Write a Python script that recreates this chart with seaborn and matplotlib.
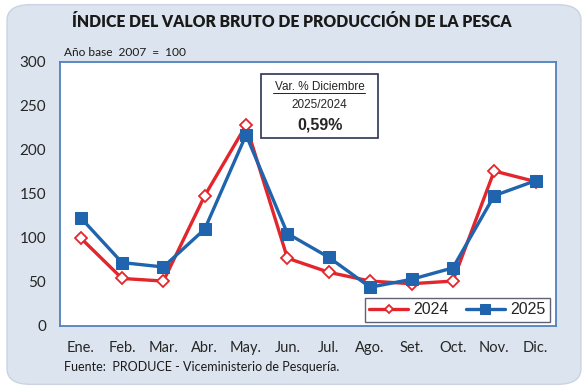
import numpy as np
import pandas as pd
import matplotlib
matplotlib.use("Agg")
import matplotlib.pyplot as plt
import seaborn as sns
from matplotlib.patches import FancyBboxPatch

months = ["Ene.", "Feb.", "Mar.", "Abr.", "May.", "Jun.", "Jul.", "Ago.", "Set.", "Oct.", "Nov.", "Dic."]
vals_2024 = [100, 54, 51, 148, 228, 77, 61, 51, 48, 51, 176, 164]
vals_2025 = [123, 72, 67, 110, 217, 105, 78, 44, 53, 66, 148, 165]
y_ticks = [0, 50, 100, 150, 200, 250, 300]

RED = "#e3262b"
BLUE = "#1f64ad"
BG = "#dce5ef"
FONT = ["Lato", "DejaVu Sans"]
ARIAL = ["Liberation Sans", "DejaVu Sans"]

sns.set_style("white")
plt.rcParams["font.family"] = FONT

fig = plt.figure(figsize=(5.88, 3.89), dpi=100)
fig.patch.set_facecolor("white")
bg = FancyBboxPatch((0.012, 0.012), 0.976, 0.976,
                    boxstyle="round,pad=0,rounding_size=0.04",
                    transform=fig.transFigure, facecolor=BG,
                    edgecolor="#c9d4e0", linewidth=1, zorder=-10)
fig.patches.append(bg)

ax = fig.add_axes([0.102, 0.162, 0.844, 0.679])
ax.set_facecolor("white")

df = pd.DataFrame({"pos": np.arange(len(months)), "y2024": vals_2024, "y2025": vals_2025})

sns.lineplot(data=df, x="pos", y="y2024", ax=ax, color=RED, linewidth=2.4,
             marker="D", markersize=6, markerfacecolor="white",
             markeredgecolor=RED, markeredgewidth=1.3, label="2024", zorder=3)
sns.lineplot(data=df, x="pos", y="y2025", ax=ax, color=BLUE, linewidth=2.4,
             marker="s", markersize=9, markerfacecolor=BLUE,
             markeredgecolor=BLUE, label="2025", zorder=4)

ax.set_xlim(-0.5, len(months) - 0.5)
ax.set_ylim(0, 300)
ax.set_yticks(y_ticks)
ax.set_yticklabels([str(t) for t in y_ticks], fontsize=11)
ax.set_xticks(np.arange(len(months)))
ax.set_xticklabels(months, fontsize=10.5)
ax.set_xticks(np.arange(len(months) + 1) - 0.5, minor=True)
ax.tick_params(axis="x", which="major", length=0, pad=11)
ax.tick_params(axis="x", which="minor", length=4, color="#4f81bd", direction="out")
ax.tick_params(axis="y", length=4, color="#4f81bd", direction="out", pad=6)
ax.set_xlabel("")
ax.set_ylabel("")
for s in ax.spines.values():
    s.set_color("#4f81bd")
    s.set_linewidth(1.3)

leg = ax.legend(loc="lower right", ncol=2, fontsize=11.5, frameon=True,
                fancybox=False, edgecolor="#3a3a55", handlelength=2.4,
                handletextpad=0.35, columnspacing=1.1, borderpad=0.3,
                borderaxespad=0, markerscale=0.75,
                bbox_to_anchor=(0.988, 0.014))
leg.get_frame().set_linewidth(1.0)
for t in leg.get_texts():
    t.set_family(ARIAL)

fig.text(0.497, 0.943, "ÍNDICE DEL VALOR BRUTO DE PRODUCCIÓN DE LA PESCA",
         ha="center", va="center", fontsize=11.3, fontweight="heavy", color="#1a1a1a")
fig.text(0.108, 0.866, "Año base  2007  =  100", ha="left", va="center",
         fontsize=8.6, color="#1a1a1a")
fig.text(0.108, 0.056, "Fuente:  PRODUCE - Viceministerio de Pesquería.",
         ha="left", va="center", fontsize=9, color="#1a1a1a")

box = FancyBboxPatch((0.444, 0.645), 0.199, 0.165, boxstyle="square,pad=0",
                     transform=fig.transFigure, facecolor="white",
                     edgecolor="#2b3550", linewidth=1.2, zorder=5)
fig.patches.append(box)
fig.text(0.5435, 0.776, "Var. % Diciembre", ha="center", va="center", fontsize=8.5,
         family=ARIAL, zorder=6)
fig.add_artist(plt.Line2D([0.464, 0.621], [0.762, 0.762], color="#222222",
                          linewidth=0.7, transform=fig.transFigure, zorder=7))
fig.text(0.5435, 0.729, "2025/2024", ha="center", va="center", fontsize=8.5,
         family=ARIAL, zorder=6)
fig.text(0.5435, 0.679, "0,59%", ha="center", va="center", fontsize=11.5,
         fontweight="bold", family=ARIAL, zorder=6)

fig.savefig("out.png", dpi=100, facecolor="white")
